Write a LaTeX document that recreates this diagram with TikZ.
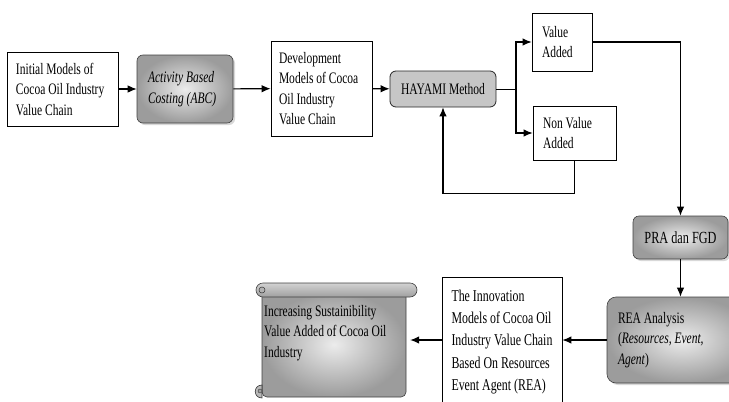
\documentclass[tikz,border=0pt]{standalone}
\usepackage{fontspec}
\setmainfont{Liberation Serif}[FakeStretch=0.72]
\usetikzlibrary{arrows.meta,shadows}
\begin{document}
\begin{tikzpicture}[x=1pt,y=-1pt,
  txt/.style={font=\fontsize{16}{20.5}\selectfont},
  plainbox/.style={draw, line width=0.8pt, align=flush left, txt, inner ysep=0pt},
  shadebox/.style={draw=gray!50!black, line width=0.6pt, rounded corners=6pt,
     inner color=gray!15, outer color=gray!78,
     drop shadow={shadow xshift=2pt,shadow yshift=-2pt,fill=gray!60,opacity=0.5},
     align=flush left, txt, inner ysep=0pt},
  arr/.style={line width=1.1pt, -{Latex[length=9pt,width=7.5pt]}},
  ln/.style={line width=0.9pt}]
\useasboundingbox (0,0) rectangle (729,402);
\clip (0,0) rectangle (729,402);

% nodes
\node[plainbox, inner xsep=9pt, text width=93pt, minimum height=74pt] (init) at (62.5,89)
  {Initial Models of\\Cocoa Oil Industry\\Value Chain};
\node[shadebox, inner xsep=11pt, text width=74pt, minimum height=68pt,
  font=\fontsize{16}{20.5}\selectfont\itshape] (abc) at (185,89)
  {Activity Based\\Costing (ABC)};
\node[plainbox, inner xsep=8pt, text width=85pt, minimum height=95pt] (dev) at (321.5,88.5)
  {Development\\Models of Cocoa\\Oil Industry\\Value Chain};
\node[draw=gray!30!black, fill=gray!45, rounded corners=6pt, line width=0.8pt, txt,
  minimum width=106pt, minimum height=36pt, inner sep=0pt] (hay) at (443,89) {HAYAMI Method};
\node[plainbox, inner xsep=10pt, text width=40pt, minimum height=58pt] (va) at (562,42)
  {Value\\Added};
\node[plainbox, inner xsep=10pt, text width=63pt, minimum height=54pt] (nva) at (574.5,133)
  {Non Value\\Added};
\node[shadebox, align=center, font=\fontsize{17}{20}\selectfont, inner xsep=0pt,
  minimum width=95pt, minimum height=43pt] (pra) at (680.5,237.5) {PRA dan FGD};
\node[shadebox, rounded corners=9pt, inner xsep=11pt, text width=128pt, minimum height=86pt] (rea) at (682,340)
  {REA Analysis\\(\textit{Resources, Event,}\\\textit{Agent})};
\node[draw, line width=0.8pt, align=flush left, inner sep=0pt, minimum width=120pt, minimum height=130pt,
  font=\fontsize{16.5}{22.2}\selectfont] (inn) at (502,342)
  {The Innovation\\Models of Cocoa Oil\\Industry Value Chain\\Based On Resources\\Event Agent (REA)};

% scroll shape
\shade[draw=gray!50!black, line width=0.6pt, inner color=gray!15, outer color=gray!78, rounded corners=5pt]
  (262,292) -- (262,397) -- (406,397) -- (406,292) -- cycle;
\shade[draw=gray!50!black, line width=0.6pt, top color=gray!35, bottom color=gray!75, rounded corners=7pt]
  (256,283) rectangle (417,297);
\filldraw[fill=gray!60, draw=gray!40!black, line width=0.5pt] (262,290) circle (3pt);
\filldraw[fill=gray!55, draw=gray!40!black, line width=0.6pt]
  (262,385) .. controls (253,385) and (253,398) .. (262,398) -- cycle;
\filldraw[fill=gray!75, draw=gray!40!black, line width=0.4pt] (260,391) circle (2pt);
\node[minimum width=154pt, minimum height=114pt, inner sep=0pt] (scroll) at (333,340) {};
\node[txt, anchor=west, inner sep=0pt, align=flush left] (scrolltxt) at (264,333)
  {Increasing Sustainibility\\Value Added of Cocoa Oil\\Industry};

% connectors
\draw[arr] (init) -- (abc);
\draw[arr] (abc) -- (dev);
\draw[arr] (dev) -- (hay);
\coordinate (split) at (516,89);
\draw[ln] (hay.east) -- (split);
\draw[arr] (split) |- (va.west);
\draw[arr] (split) |- (nva.west);
\draw[arr] (va.east) -| (pra.north);
\draw[arr] (pra.south) -- (pra.south |- rea.north);
\draw[arr] (rea.west) -- (rea.west -| inn.east);
\draw[arr] (inn.west |- rea.west) -- (rea.west -| scroll.east);
\draw[arr] (nva.south) -- ++(0,33) -| (hay.south);
\end{tikzpicture}
\end{document}
